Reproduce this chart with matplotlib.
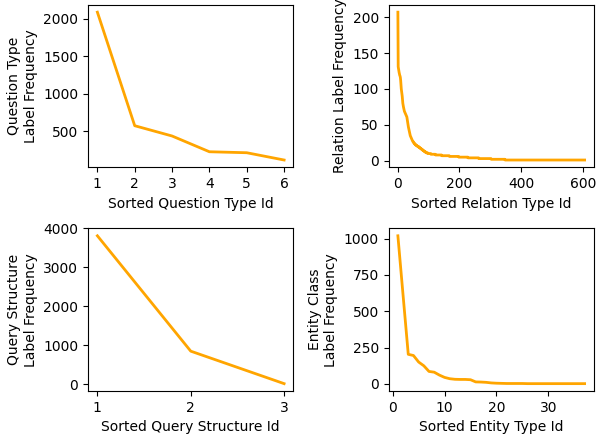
import numpy as np
import matplotlib
matplotlib.use('Agg')
import matplotlib.pyplot as plt

question_freq = [2085, 572, 435, 225, 212, 115]
query_freq = [3810, 845, 10]
entity_freq = [1020, 610, 203, 195, 150, 124, 85, 80, 60, 44, 35, 31, 30, 30, 28,
               13, 12, 10, 6, 4, 3, 2, 2, 2, 2, 1, 1, 1, 1, 1, 1, 1, 1, 1, 1, 1, 1]

# relation counts: the head read point by point, the long tail as (value, how many types)
relation_head = [207, 131, 128, 125, 123, 121, 119, 118, 116, 112, 106, 100, 97, 94, 90,
                 85, 80, 77, 75, 73, 71, 69, 68, 67, 66, 65, 64, 63, 62, 61, 58, 55, 52,
                 49, 47, 45, 43, 41, 39, 37, 35, 34, 33, 32, 31, 30, 29, 28, 27, 27, 26,
                 25, 25, 24, 24, 23, 23, 22, 22, 22, 21, 21, 21, 20, 20, 20, 20, 19]
relation_tail_values = [19, 18, 17, 16, 15, 14, 13, 12, 11, 10, 9, 8, 7, 6, 5, 4, 3, 2, 1]
relation_tail_counts = [2, 3, 3, 3, 3, 3, 3, 4, 5, 10, 15, 20, 25, 30, 30, 35, 40, 45, 258]
relation_freq = relation_head + list(np.repeat(relation_tail_values, relation_tail_counts))

fig, axes = plt.subplots(2, 2, figsize=(6.03, 4.34), dpi=100)
plt.subplots_adjust(left=0.146, right=0.985, top=0.989, bottom=0.099,
                    wspace=0.463, hspace=0.375)

ax = axes[0, 0]
ax.plot(range(1, len(question_freq) + 1), question_freq, color='orange', lw=2)
ax.set_xticks(range(1, len(question_freq) + 1))
ax.set_xlabel('Sorted Question Type Id')
ax.set_ylabel('Question Type\nLabel Frequency')

ax = axes[0, 1]
ax.plot(range(1, len(relation_freq) + 1), relation_freq, color='orange', lw=2)
ax.set_xticks([0, 200, 400, 600])
ax.set_xlabel('Sorted Relation Type Id')
ax.set_ylabel('Relation Label Frequency')

ax = axes[1, 0]
ax.plot(range(1, len(query_freq) + 1), query_freq, color='orange', lw=2)
ax.set_xticks(range(1, len(query_freq) + 1))
ax.set_xlabel('Sorted Query Structure Id')
ax.set_ylabel('Query Structure\nLabel Frequency')

ax = axes[1, 1]
ax.plot(range(1, len(entity_freq) + 1), entity_freq, color='orange', lw=2)
ax.set_xticks([0, 10, 20, 30])
ax.set_xlabel('Sorted Entity Type Id')
ax.set_ylabel('Entity Class\nLabel Frequency')

plt.savefig('out.png')
